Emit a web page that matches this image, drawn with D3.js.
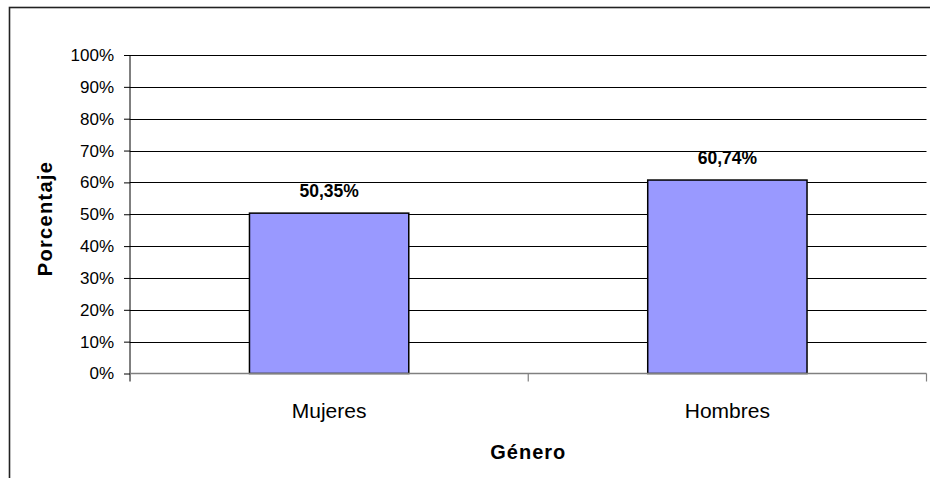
<!DOCTYPE html>
<html>
<head>
<meta charset="utf-8">
<script src="https://cdn.jsdelivr.net/npm/d3@7"></script>
<style>
  html, body { margin: 0; padding: 0; background: #fff; }
  svg { display: block; font-family: "Liberation Sans", Arial, sans-serif; }
</style>
</head>
<body>
<svg id="chart" width="930" height="478"></svg>
<script>
const categories = ["Mujeres", "Hombres"];
const values = [0.5035, 0.6074];
const valueLabels = ["50,35%", "60,74%"];
const yTicks = [0, 0.1, 0.2, 0.3, 0.4, 0.5, 0.6, 0.7, 0.8, 0.9, 1.0];
const yTitle = "Porcentaje";
const xTitle = "Género";

const svg = d3.select("#chart");

// outer chart border (extends past the right/bottom edge)
svg.append("rect")
  .attr("x", 9.5).attr("y", 7.5)
  .attr("width", 930).attr("height", 480)
  .attr("fill", "none").attr("stroke", "#222").attr("stroke-width", 1.6);

const plot = { left: 130, right: 926.5, top: 55, bottom: 373.5 };

const y = d3.scaleLinear().domain([0, 1]).range([plot.bottom, plot.top]);
const x = d3.scaleBand().domain(categories)
  .range([plot.left, plot.right])
  .paddingInner(0.6).paddingOuter(0.3);

// gridlines
svg.append("g").selectAll("line")
  .data(yTicks.filter(d => d > 0))
  .join("line")
  .attr("x1", plot.left).attr("x2", plot.right)
  .attr("y1", d => Math.round(y(d)) + 0.5).attr("y2", d => Math.round(y(d)) + 0.5)
  .attr("stroke", "#000").attr("stroke-width", 1);

// y axis
const yAxis = d3.axisLeft(y).tickValues(yTicks)
  .tickFormat(d => Math.round(d * 100) + "%")
  .tickSize(6).tickPadding(10);
const gy = svg.append("g").attr("transform", `translate(${plot.left},0)`).call(yAxis);
gy.select(".domain").remove();
gy.selectAll(".tick line").attr("stroke", "#000");
gy.selectAll(".tick text")
  .attr("font-size", 17).attr("fill", "#000")
  .attr("font-family", "Liberation Sans, Arial, sans-serif");
svg.append("line")
  .attr("x1", plot.left).attr("x2", plot.left)
  .attr("y1", plot.top).attr("y2", plot.bottom + 8)
  .attr("stroke", "#000").attr("stroke-width", 1);

// bars
svg.append("g").selectAll("rect")
  .data(categories)
  .join("rect")
  .attr("x", d => x(d))
  .attr("y", (d, i) => y(values[i]))
  .attr("width", x.bandwidth())
  .attr("height", (d, i) => y(0) - y(values[i]))
  .attr("fill", "#9999FF")
  .attr("stroke", "#000").attr("stroke-width", 1.5);

// x axis baseline and boundary ticks
svg.append("line")
  .attr("x1", plot.left).attr("x2", plot.right)
  .attr("y1", plot.bottom).attr("y2", plot.bottom)
  .attr("stroke", "#808080").attr("stroke-width", 1.6);
const step = x.step();
const boundaries = d3.range(categories.length + 1).map(i => plot.left + i * (plot.right - plot.left) / categories.length);
svg.append("g").selectAll("line")
  .data(boundaries.slice(1))
  .join("line")
  .attr("x1", d => d).attr("x2", d => d)
  .attr("y1", plot.bottom).attr("y2", plot.bottom + 8)
  .attr("stroke", "#808080").attr("stroke-width", 1.2);

// category labels
svg.append("g").selectAll("text")
  .data(categories)
  .join("text")
  .attr("x", d => x(d) + x.bandwidth() / 2)
  .attr("y", 418)
  .attr("text-anchor", "middle")
  .attr("font-size", 21)
  .attr("fill", "#000")
  .text(d => d);

// value labels
svg.append("g").selectAll("text")
  .data(categories)
  .join("text")
  .attr("x", d => x(d) + x.bandwidth() / 2)
  .attr("y", (d, i) => y(values[i]) - 16)
  .attr("text-anchor", "middle")
  .attr("font-size", 17.5)
  .attr("font-weight", "bold")
  .attr("fill", "#000")
  .text((d, i) => valueLabels[i]);

// x title
svg.append("text")
  .attr("x", (plot.left + plot.right) / 2)
  .attr("y", 459)
  .attr("text-anchor", "middle")
  .attr("font-size", 20)
  .attr("font-weight", "bold")
  .attr("letter-spacing", 1)
  .attr("fill", "#000")
  .text(xTitle);

// y title
svg.append("text")
  .attr("transform", "translate(52,218.5) rotate(-90)")
  .attr("text-anchor", "middle")
  .attr("font-size", 20)
  .attr("font-weight", "bold")
  .attr("letter-spacing", 1.3)
  .attr("fill", "#000")
  .text(yTitle);
</script>
</body>
</html>
